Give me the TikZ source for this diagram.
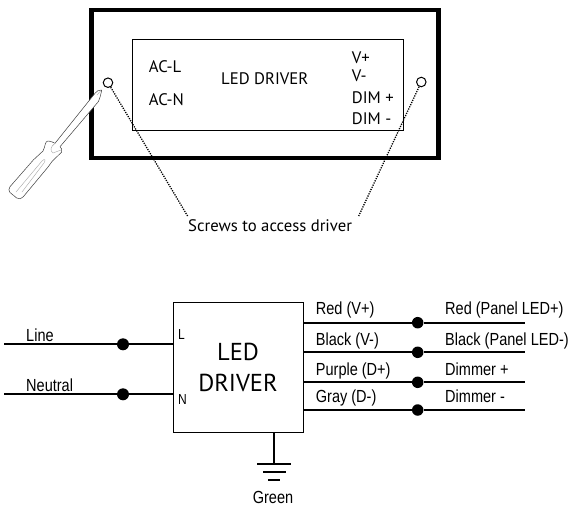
\documentclass[tikz,border=0pt]{standalone}
\usepackage{fontspec}
\setmainfont{PT Sans}
\newfontfamily\narrowfont[FakeStretch=0.83]{Liberation Sans}
\tikzset{
  frame/.style={draw=black,line width=4.5pt,minimum width=347pt,minimum height=148pt,inner sep=0pt},
  panel/.style={draw=black,line width=0.9pt,minimum width=271pt,minimum height=91pt,inner sep=0pt},
  driverbox/.style={draw=black,line width=1pt,minimum width=130pt,minimum height=130pt,inner sep=0pt,align=center,font=\fontsize{24.5}{31}\selectfont},
  screw/.style={circle,draw=black,line width=1pt,minimum size=9.5pt,inner sep=0pt},
  junction/.style={circle,fill=black,minimum size=11.5pt,inner sep=0pt},
  lab/.style={anchor=base west,inner sep=0pt,font=\fontsize{16.7}{18}\selectfont},
  wlab/.style={anchor=base west,inner sep=0pt,font=\narrowfont\fontsize{17.5}{19}\selectfont},
  wire/.style={line width=2pt},
  leader/.style={line width=1.3pt,dash pattern=on 1.2pt off 1.2pt},
  bar/.style={line width=1.2pt},
  sdedge/.style={draw=black!75,line width=0.5pt,fill=white,line join=round},
  sdinner/.style={draw=black!35,line width=0.4pt}
}
\begin{document}
\begin{tikzpicture}[x=1pt,y=-1pt]
\useasboundingbox (0,0) rectangle (571,506);
% top view
\node[frame] (outer) at (265,84) {};
\node[panel] (inner) at (267.8,84.7) {};
\node[screw] (s1) at (108,82.7) {};
\node[screw] (s2) at (421.3,82) {};
\node[lab] (acl) at (148.7,72.7) {AC-L};
\node[lab] (acn) at (148.7,105) {AC-N};
\node[lab] (ld) at (221,84.3) {LED DRIVER};
\node[lab] (vp) at (351.7,63.3) {V+};
\node[lab] (vm) at (351.7,81) {V-};
\node[lab] (dp) at (351.7,103.3) {DIM +};
\node[lab] (dm) at (351.7,124) {DIM -};
\node[lab] (scr) at (188,231) {Screws to access driver};
\coordinate (e1) at (188,216.7);
\coordinate (e2) at (358.7,216);
\draw[leader] (s1) -- (e1);
\draw[leader] (s2) -- (e2);
% screwdriver
\draw[sdedge] (101.7,90) .. controls (99,90) and (96,91) .. (95,93.3) -- (55,143.3)
  .. controls (51,141) and (47,140.5) .. (46.2,142) .. controls (44,146) and (45,149) .. (43,151)
  -- (33.3,160) -- (10,186.7) .. controls (8.5,188.5) and (8.5,191) .. (10,192.5)
  -- (16.7,198) .. controls (19,199.5) and (21.5,199) .. (23.3,196.7) -- (48.3,166.7)
  .. controls (50,164) and (50,163.5) .. (52,161.5) -- (61.7,152)
  .. controls (62.5,150) and (61.5,148) .. (60,146.7) -- (98.3,101.7)
  .. controls (100,98) and (101,94) .. (101.7,90) -- cycle;
\draw[sdinner] (16,192) -- (42,161) .. controls (45,158) and (46,160) .. (44,163) -- (22,192);
\draw[sdinner] (55,143.3) .. controls (50,147) and (50,151) .. (53,153) -- (61,150);
\draw[sdinner] (97,95) -- (100.5,91);
% wiring
\node[driverbox] (drv) at (238,367.8) {LED\\DRIVER};
\node[wlab] (pl) at (178,339) {\fontsize{14.5}{16}\selectfont L};
\node[wlab] (pn) at (178,404) {\fontsize{14.5}{16}\selectfont N};
\coordinate (in1) at (4,344.3); \coordinate (pin1) at (173,344.3);
\coordinate (in2) at (4,394.3); \coordinate (pin2) at (173,394.3);
\node[junction,minimum size=12pt] (j1) at (123,344.3) {};
\node[junction,minimum size=12pt] (j2) at (123,394.3) {};
\draw[wire] (in1) -- (j1) -- (pin1);
\draw[wire] (in2) -- (j2) -- (pin2);
\node[wlab] (tl) at (26,341) {Line};
\node[wlab] (tn) at (26,391) {Neutral};
\foreach \n/\y in {a/322.7,b/352.3,c/382.3,d/410}{
  \coordinate (o\n) at (303,\y);
  \coordinate (t\n) at (525,\y);
  \node[junction] (k\n) at (417.7,\y) {};
  \draw[wire] (o\n) -- (k\n) -- (t\n);
}
\node[wlab] (r1) at (315.7,314) {Red (V+)};
\node[wlab] (r2) at (315.7,345) {Black (V-)};
\node[wlab] (r3) at (315.7,375.7) {Purple (D+)};
\node[wlab] (r4) at (315.7,402) {Gray (D-)};
\node[wlab] (q1) at (445,314) {Red (Panel LED+)};
\node[wlab] (q2) at (445,345) {Black (Panel LED-)};
\node[wlab] (q3) at (445,375.7) {Dimmer +};
\node[wlab] (q4) at (445,402) {Dimmer -};
% ground
\coordinate (g0) at (274.3,432.8);
\coordinate (g1) at (274.3,464);
\draw[wire] (g0) -- (g1);
\coordinate (b1a) at (257,464); \coordinate (b1b) at (291,464);
\coordinate (b2a) at (263,472); \coordinate (b2b) at (286,472);
\coordinate (b3a) at (268,480); \coordinate (b3b) at (280,480);
\draw[bar] (b1a) -- (b1b);
\draw[bar] (b2a) -- (b2b);
\draw[bar] (b3a) -- (b3b);
\node[wlab,anchor=base] (gr) at (273,503) {Green};
\end{tikzpicture}
\end{document}
